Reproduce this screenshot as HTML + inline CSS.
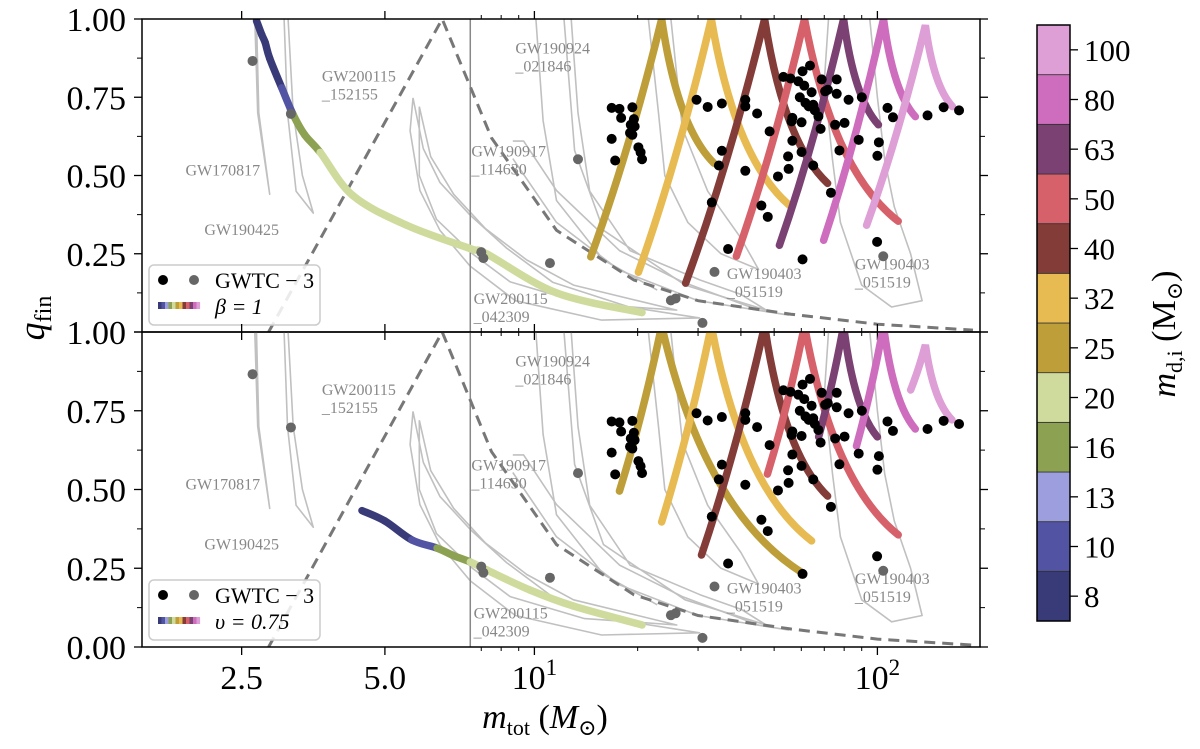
<!DOCTYPE html>
<html><head><meta charset="utf-8"><style>
body{margin:0;background:#fff;}
svg{display:block;font-family:"Liberation Serif","DejaVu Serif",serif;}
</style></head><body>
<svg id="chart" width="1200" height="749" viewBox="0 0 1200 749" xmlns="http://www.w3.org/2000/svg">
<defs>
<clipPath id="clipTop"><rect x="142" y="19" width="838" height="313"/></clipPath>
<clipPath id="clipBot"><rect x="142" y="332" width="838" height="315"/></clipPath>
</defs>
<g id="layer"></g>
</svg>
<script>
// ---------------- data ----------------
const mdiLevels = [8,10,13,16,20,25,32,40,50,63,80,100];
const mdiColors = ["#393b79","#5254a3","#9c9ede","#8ca252","#cedb9c","#bd9e39","#e7ba52","#843c39","#d6616b","#7b4173","#ce6dbd","#de9ed6"];
const xTicks = [2.5,5.0,10,100];
const xTickLabels = ["2.5","5.0","10^1","10^2"];
const xMinor = [7,8,9,20,30,40,50,60,70,80,90];
const yTicks = [0,0.25,0.5,0.75,1.0];
const yTickLabels = ["0.00","0.25","0.50","0.75","1.00"];
const yMinor = [0.125,0.375,0.625,0.875];

// low-mass continuous curves (mtot, q, segment mdi)
const lowTopM = [2.76,2.85,2.91,2.99,3.2,3.40,3.6,3.87,4.44,5.38,6.48,7.25,11.6,20.6];
const lowTopQ = [0.994,0.95,0.925,0.874,0.78,0.694,0.63,0.574,0.436,0.341,0.267,0.25,0.125,0.062];
const lowTopC = [8,8,8,8,10,16,16,20,20,20,20,20,20];
const lowBotM = [4.6,5.0,5.47,5.91,6.2,6.49,7.25,9.7,13,20.6];
const lowBotQ = [0.433,0.40,0.34,0.314,0.29,0.27,0.245,0.181,0.13,0.07];
const lowBotC = [8,8,10,16,16,20,20,20,20];

// V-shaped tracks for heavier seeds
const vMdi = [25,32,40,50,63,80,100];
const vTopLeftM = [14.6,20.1,27.6,38.8,51.8,69.7,93];
const vTopLeftQ = [0.240,0.191,0.156,0.242,0.277,0.293,0.341];
const vTopPeakM = [23.5,32.8,46.9,61.3,79.7,104.2,138];
const vTopPeakQ = [1,1,1,1,1,1,0.98];
const vTopRightM = [33.4,55.5,71.6,115,100.7,129,165.6];
const vTopRightQ = [0.539,0.404,0.475,0.354,0.662,0.688,0.720];
const vBotLeftM = [17.7,23.5,30.7,47.8,67.4,86.9,125];
const vBotLeftQ = [0.495,0.397,0.292,0.549,0.667,0.638,0.816];
const vBotPeakM = [23.5,32.8,46.9,61.3,79.7,104.2,138];
const vBotPeakQ = [1.02,1.02,1.02,1.02,1.02,1.02,0.959];
const vBotRightM = [60.5,64.3,71.6,115,100,129,165];
const vBotRightQ = [0.235,0.337,0.479,0.356,0.667,0.692,0.721];

// dashed boundary
const dashM = [2.97,6.0,7.5,11.6,19.5,30,56,100,190];
const dashQ = [0,1.0,0.62,0.325,0.166,0.10,0.057,0.025,0.006];

// GWTC-3 events (black)
const evM = [16.8,17.7,19.3,17.9,19.5,19.1,19.6,16.8,19.3,19.0,20.1,20.4,20.6,17.2,29.7,32.0,35.2,41.2,41.2,44.6,48.5,35.2,34.5,41.2,32.9,36.7,45.9,47.9,51.3,54.9,55.1,56.5,60.1,65.0,56.2,56.5,60.1,53.2,55.8,60.5,63.6,58.8,61.2,64.3,59.4,61.7,63.1,65.0,65.7,67.3,68.8,70.4,71.7,76.1,76.1,82.4,90.1,68.3,75.3,80.2,77.5,88.2,101,100,73.2,99.8,60.5,107,111,140,156,173];
const evQ = [0.716,0.713,0.718,0.684,0.680,0.662,0.657,0.617,0.630,0.636,0.590,0.574,0.552,0.548,0.742,0.719,0.730,0.742,0.721,0.698,0.641,0.579,0.532,0.515,0.414,0.265,0.404,0.368,0.497,0.561,0.521,0.611,0.575,0.532,0.673,0.684,0.670,0.815,0.810,0.833,0.851,0.801,0.787,0.766,0.750,0.732,0.721,0.726,0.708,0.689,0.807,0.769,0.774,0.807,0.761,0.742,0.750,0.649,0.662,0.668,0.580,0.614,0.606,0.563,0.445,0.288,0.232,0.716,0.686,0.692,0.718,0.708];
// highlighted events (grey)
const gvM = [2.69,3.36,7.0,7.1,11.1,13.4,33.5,30.9,25.0,25.8,104];
const gvQ = [0.866,0.697,0.255,0.236,0.22,0.552,0.192,0.029,0.101,0.107,0.242];

// posterior contours (mtot,q loops)
const contours = [
 [[2.73,1.0],[2.78,0.7],[2.99,0.44],[2.80,0.7],[2.76,1.0]],
 [[3.24,1.0],[3.30,0.7],[3.45,0.45],[3.75,0.38],[3.56,0.5],[3.40,0.7],[3.31,1.0]],
 [[5.49,0.748],[5.67,0.586],[5.96,0.478],[6.49,0.373],[8.3,0.268],[11.3,0.159],[18.9,0.08],[30.3,0.045],[15.7,0.038],[8.8,0.10],[6.49,0.21],[5.96,0.325],[5.61,0.452],[5.44,0.643],[5.49,0.748]],
 [[5.6,0.72],[5.8,0.56],[6.2,0.44],[7.2,0.33],[9.5,0.23],[13,0.15],[20,0.10],[26,0.07],[14,0.09],[8.5,0.16],[6.6,0.25],[5.9,0.36],[5.6,0.5],[5.6,0.72]],
 [[8.65,0.554],[11.6,0.35],[17.7,0.197],[30,0.10],[55,0.054],[45,0.07],[27,0.16],[17.7,0.26],[11.6,0.452],[9.3,0.61],[8.65,0.61]],
 [[12.2,1.0],[13.1,0.58],[15.9,0.325],[27.5,0.15],[47.4,0.07],[40,0.12],[30.4,0.166],[19,0.26],[14.5,0.45],[13.4,0.7],[12.8,1.0]],
 [[10.1,1.0],[10.6,0.675],[11.6,0.42],[15.9,0.23],[22.8,0.134]],
 [[21.5,1.0],[23,0.7],[24,0.5],[28,0.35],[35,0.25],[45,0.2],[40,0.3],[32,0.45],[27,0.65],[25,1.0]],
 [[72,1.0],[70,0.8],[74,0.55],[78,0.35],[90,0.15],[110,0.08],[135,0.1],[125,0.25],[112,0.4],[105,0.55],[100,0.75],[95,1.0]]
];
const evLabels = [["GW200115","_152155",3.9,0.80],["GW170817","",1.52,0.50],["GW190425","",1.85,0.31],["GW190924","_021846",8.8,0.89],["GW190917","_114630",6.55,0.56],["GW200115","_042309",6.65,0.09],["GW190403","_051519",36.4,0.17],["GW190403","_051519",86,0.20]];

// ---------------- scales ----------------
const LIN=6.49;
function X(m){ return m<=LIN ? 98.4+57.3*m : 470+343*Math.log10(m/LIN); }
function yTop(q){ return 332-313*q; }
function yBot(q){ return 647-315*q; }

const NS="http://www.w3.org/2000/svg";
const root=document.getElementById('layer');
function mk(tag,parent,attrs){const e=document.createElementNS(NS,tag);for(const k in attrs)e.setAttribute(k,attrs[k]);parent.appendChild(e);return e;}
function col(md){return mdiColors[mdiLevels.indexOf(md)];}

function drawPanel(pi){
  const Y = pi===0?yTop:yBot;
  const top = pi===0?19:332, bot = pi===0?332:647;
  const g=mk('g',root,{});
  
  
  const c=mk('g',g,{'clip-path':pi===0?'url(#clipTop)':'url(#clipBot)'});
  contours.forEach((pts,i)=>{
    const d=pts.map((p,j)=>(j?'L':'M')+X(p[0]).toFixed(1)+','+Y(p[1]).toFixed(1)).join(' ');
    const p=mk('path',c,{d:d,fill:'none',stroke:'#c0c0c0','stroke-width':1.6,'stroke-linejoin':'round'});
    
    
  });
  const vl=mk('line',c,{x1:X(LIN),x2:X(LIN),y1:top,y2:bot,stroke:'#888','stroke-width':1.5});
  
  
  let dd='';
  dashM.forEach((m,i)=>{dd+=(i?'L':'M')+X(m).toFixed(1)+','+Y(dashQ[i]).toFixed(1)+' ';});
  const dl=mk('path',c,{d:dd,fill:'none',stroke:'#777','stroke-width':3,'stroke-dasharray':'11,7'});
  
  
  const LM=pi===0?vTopLeftM:vBotLeftM, LQ=pi===0?vTopLeftQ:vBotLeftQ;
  const PM=pi===0?vTopPeakM:vBotPeakM, PQ=pi===0?vTopPeakQ:vBotPeakQ;
  const RM=pi===0?vTopRightM:vBotRightM, RQ=pi===0?vTopRightQ:vBotRightQ;
  vMdi.forEach((md,i)=>{
    const lx=X(LM[i]),ly=Y(LQ[i]),px=X(PM[i]),py=Y(PQ[i]),rx=X(RM[i]),ry=Y(RQ[i]);
    const c1x=lx+0.55*(px-lx), c1y=ly+0.45*(py-ly);
    const c2x=px+0.3*(rx-px), c2y=py+0.75*(ry-py);
    const d='M'+lx+','+ly+' Q'+c1x+','+c1y+' '+px+','+py+' Q'+c2x+','+c2y+' '+rx+','+ry;
    const p=mk('path',c,{d:d,fill:'none',stroke:col(md),'stroke-width':7.5,'stroke-linecap':'round','stroke-linejoin':'miter'});
    
    
  });
  // low-mass curve, smoothed (Catmull-Rom) per segment
  const M=pi===0?lowTopM:lowBotM, Q=pi===0?lowTopQ:lowBotQ, C=pi===0?lowTopC:lowBotC;
  const P=M.map((m,i)=>[X(m),Y(Q[i])]);
  for(let i=0;i<P.length-1;i++){
    const p0=P[Math.max(0,i-1)],p1=P[i],p2=P[i+1],p3=P[Math.min(P.length-1,i+2)];
    const b1=[p1[0]+(p2[0]-p0[0])/6,p1[1]+(p2[1]-p0[1])/6];
    const b2=[p2[0]-(p3[0]-p1[0])/6,p2[1]-(p3[1]-p1[1])/6];
    const d='M'+p1.join(',')+' C'+b1.join(',')+' '+b2.join(',')+' '+p2.join(',');
    const s=mk('path',c,{d:d,fill:'none',stroke:col(C[i]),'stroke-width':7.5,'stroke-linecap':'round'});
    
    
  }
  evLabels.forEach(l=>{
    const t=mk('text',c,{x:X(l[2]),y:Y(l[3]),fill:'#888','font-size':16});
    t.textContent=l[0];
    
    
    if(l[1]){const t2=mk('text',c,{x:X(l[2]),y:Y(l[3])+18,fill:'#888','font-size':16});t2.textContent=l[1];
      
      }
  });
  evM.forEach((m,i)=>{
    const d=mk('circle',c,{cx:X(m),cy:Y(evQ[i]),r:5,fill:'#000'});
    
    
  });
  gvM.forEach((m,i)=>{
    const d=mk('circle',c,{cx:X(m),cy:Y(gvQ[i]),r:5,fill:'#666'});
    
    
  });
  const fr=mk('rect',g,{x:142,y:top,width:838,height:bot-top,fill:'none',stroke:'#000','stroke-width':1.5});
  
  
  xTicks.forEach(v=>{
    const x=X(v);
    mk('line',g,{x1:x,x2:x,y1:bot,y2:bot+8,stroke:'#000','stroke-width':1.3});
    mk('line',g,{x1:x,x2:x,y1:top,y2:top-8,stroke:'#000','stroke-width':1.3});
  });
  xMinor.forEach(v=>{
    const x=X(v);
    mk('line',g,{x1:x,x2:x,y1:bot,y2:bot+4,stroke:'#000','stroke-width':1});
    mk('line',g,{x1:x,x2:x,y1:top,y2:top-4,stroke:'#000','stroke-width':1});
  });
  yTicks.forEach((v,i)=>{
    const y=Y(v);
    mk('line',g,{x1:142,x2:134,y1:y,y2:y,stroke:'#000','stroke-width':1.3});
    mk('line',g,{x1:980,x2:988,y1:y,y2:y,stroke:'#000','stroke-width':1.3});
    if(pi===1 || i>0){
      const t=mk('text',g,{x:126,y:y+12,'font-size':34,'text-anchor':'end'});
      t.textContent=yTickLabels[i];
      
      
    }
  });
  yMinor.forEach(v=>{
    const y=Y(v);
    mk('line',g,{x1:142,x2:137,y1:y,y2:y,stroke:'#000','stroke-width':1});
    mk('line',g,{x1:980,x2:985,y1:y,y2:y,stroke:'#000','stroke-width':1});
  });
  const ly=pi===0?265:580;
  const lg=mk('g',g,{});
  
  
  mk('rect',lg,{x:149,y:ly,width:171,height:60,rx:5,fill:'#fff','fill-opacity':0.85,stroke:'#ccc','stroke-width':1.5});
  mk('circle',lg,{cx:163,cy:ly+15,r:5,fill:'#000'});
  mk('circle',lg,{cx:194,cy:ly+15,r:5,fill:'#666'});
  const t1=mk('text',lg,{x:215,y:ly+23,'font-size':22});t1.textContent='GWTC − 3';
  
  
  mdiColors.forEach((cc,i)=>{mk('rect',lg,{x:158+i*3.5,y:ly+37,width:3.6,height:7,fill:cc});});
  const t2=mk('text',lg,{x:215,y:ly+49,'font-size':22,'font-style':'italic'});
  t2.textContent= pi===0 ? 'β = 1' : 'υ = 0.75';
  
  
}
drawPanel(0);
drawPanel(1);

xTicks.forEach((v,i)=>{
  const lab=xTickLabels[i];
  const t=mk('text',root,{x:X(v),y:689,'font-size':34,'text-anchor':'middle'});
  if(lab.indexOf('^')>0){
    const [b,e]=lab.split('^');
    const s1=mk('tspan',t,{});s1.textContent=b;
    const s2=mk('tspan',t,{dy:-14,'font-size':23});s2.textContent=e;
  } else t.textContent=lab;
  
  
});
const xt=mk('text',root,{x:545,y:728,'font-size':34,'text-anchor':'middle'});


xt.innerHTML='<tspan font-style="italic">m</tspan><tspan font-size="22" dy="7">tot</tspan><tspan dy="-7"> (</tspan><tspan font-style="italic">M</tspan><tspan font-size="22" dy="7">⊙</tspan><tspan dy="-7">)</tspan>';
const yt=mk('text',root,{x:0,y:0,'font-size':36,'text-anchor':'middle',transform:'translate(44,318) rotate(-90)'});


yt.innerHTML='<tspan font-style="italic">q</tspan><tspan font-size="24" dy="7">fin</tspan>';

const cb=mk('g',root,{});


const cbTop=25,cbBot=621,segH=(cbBot-cbTop)/mdiLevels.length;
mdiLevels.forEach((md,i)=>{
  const y0=cbBot-(i+1)*segH;
  const r=mk('rect',cb,{x:1037,y:y0,width:33,height:segH,fill:mdiColors[i],stroke:'#333','stroke-width':0.8});
  
  
  mk('line',cb,{x1:1070,x2:1078,y1:y0+segH/2,y2:y0+segH/2,stroke:'#000','stroke-width':1.3});
  const t=mk('text',cb,{x:1084,y:y0+segH/2+11,'font-size':31});
  t.textContent=md;
  
  
});
mk('rect',cb,{x:1037,y:cbTop,width:33,height:cbBot-cbTop,fill:'none',stroke:'#000','stroke-width':1.5});
const ct=mk('text',root,{x:0,y:0,'font-size':34,'text-anchor':'middle',transform:'translate(1175,334) rotate(-90)'});


ct.innerHTML='<tspan font-style="italic">m</tspan><tspan font-size="22" dy="7">d,i</tspan><tspan dy="-7"> (M</tspan><tspan font-size="22" dy="7">⊙</tspan><tspan dy="-7">)</tspan>';
</script>
</body></html>
